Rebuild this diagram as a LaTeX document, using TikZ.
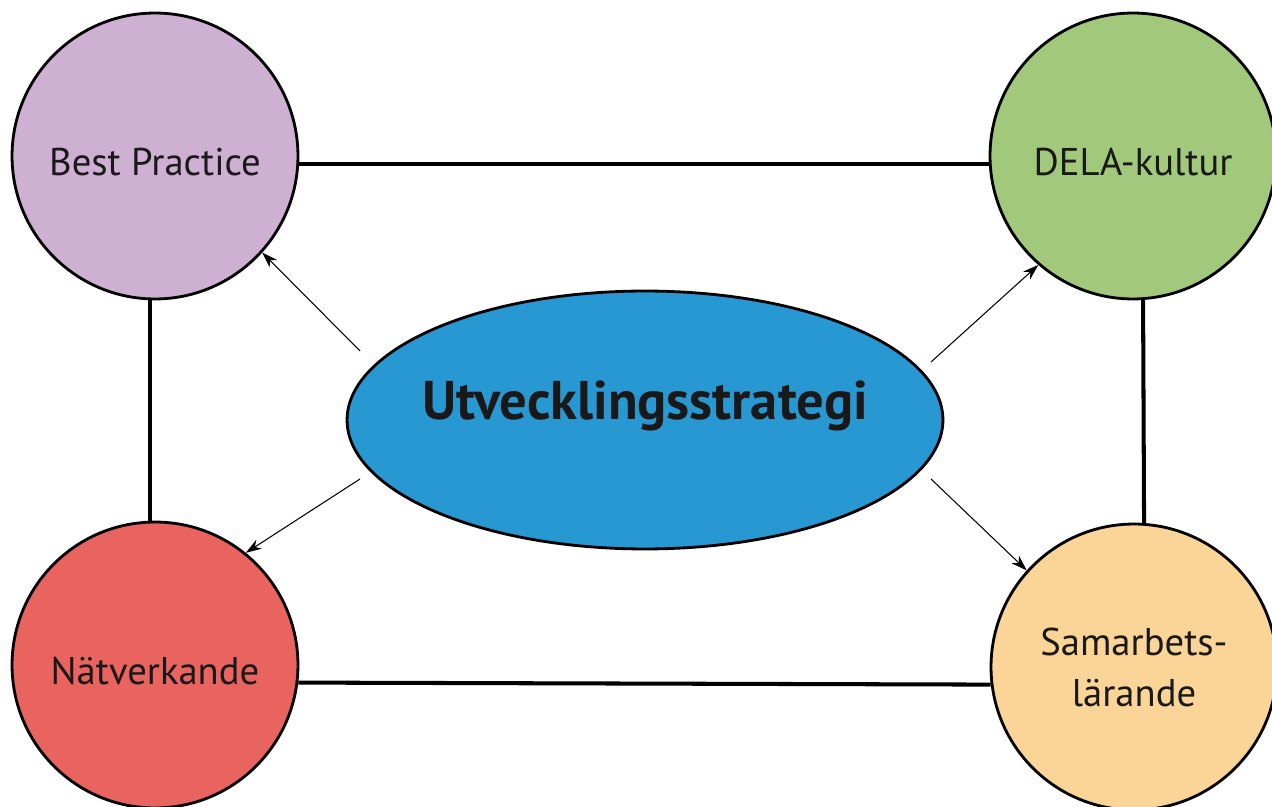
\documentclass[tikz,border=0pt]{standalone}
\usepackage{fontspec}
\setmainfont{PT Sans}
\usetikzlibrary{shapes.geometric,arrows.meta}

\begin{document}
\begin{tikzpicture}[x=0.02cm,y=-0.02cm,
    topic/.style={circle,draw=black,line width=1.6pt,minimum size=5.72cm,inner sep=0pt,
      font=\fontsize{22}{29}\selectfont,text=textcolor,align=center},
    oneline/.style={text height=22pt,text depth=0pt},
    hub/.style={ellipse,draw=black,line width=1.6pt,fill=hubcolor,
      minimum width=11.92cm,minimum height=5.16cm,inner sep=0pt},
    link/.style={line width=2.3pt},
    pointer/.style={line width=0.6pt,-{Stealth[length=9pt,width=6pt]}}]
  % Colors
  \colorlet{textcolor}{black!90}
  \definecolor{hubcolor}{HTML}{2898D3}
  \definecolor{bestcolor}{HTML}{CEB0D2}
  \definecolor{delacolor}{HTML}{A2C97B}
  \definecolor{natcolor}{HTML}{E9645F}
  \definecolor{samcolor}{HTML}{FBD597}

  \useasboundingbox (0,0) rectangle (1272,807);
  \clip (0,0) rectangle (1272,807);

  % circles
  \node[topic,oneline,fill=bestcolor] (best) at (155,156) {Best Practice};
  \node[topic,oneline,fill=delacolor] (dela) at (1133,156) {DELA-kultur};
  \node[topic,oneline,fill=natcolor] (nat) at (155,665) {Nätverkande};
  \node[topic,fill=samcolor] (sam) at (1134,667) {Samarbets-\\lärande};

  % centre
  \node[hub] (hub) at (645,420) {};
  \node[anchor=base,font=\fontsize{31}{36}\selectfont\bfseries,text=textcolor] (hublabel)
    at (hub.center) {Utvecklingsstrategi};

  % frame
  \draw[link] (best.-3) -- (dela.183);
  \draw[link] (nat.-7) -- (sam.187);
  \draw[link] (best.268) -- (nat.92);
  \draw[link] (dela.-86) -- (sam.86);

  % arrows
  \coordinate (fromBest) at (360,351);
  \coordinate (fromDela) at (931,362);
  \coordinate (fromNat) at (360,479);
  \coordinate (fromSam) at (931,479);
  \draw[pointer] (fromBest) -- (best.-42);
  \draw[pointer] (fromDela) -- (dela.229);
  \draw[pointer] (fromNat) -- (nat.51);
  \draw[pointer] (fromSam) -- (sam.138);
\end{tikzpicture}
\end{document}
